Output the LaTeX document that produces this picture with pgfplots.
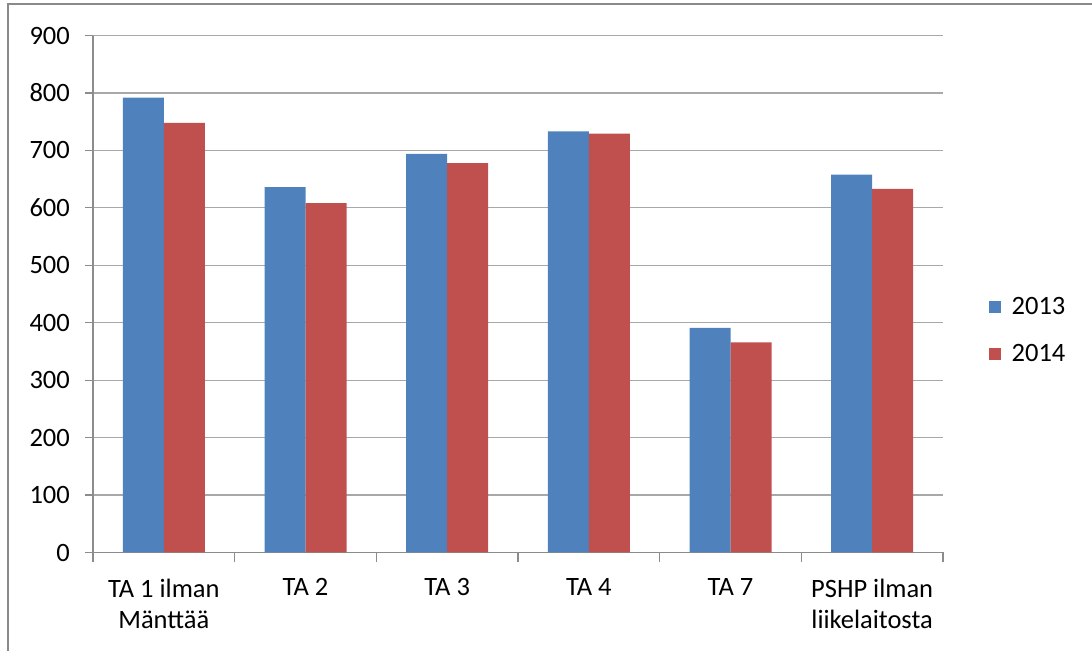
\documentclass[border=0pt]{standalone}
\usepackage{fontspec}
\setmainfont{Carlito}
\usepackage{pgfplots}
\pgfplotsset{compat=1.18}

\definecolor{sblue}{HTML}{4F81BD}
\definecolor{sred}{HTML}{C0504D}
\definecolor{gridgray}{HTML}{A8A8A8}
\definecolor{axisgray}{HTML}{8C8C8C}
\definecolor{framegray}{HTML}{8A8A8A}

\begin{document}
\begin{tikzpicture}
\path[use as bounding box] (0,0) rectangle (1092bp,651bp);
\draw[framegray, line width=2bp] (8bp,0) -- (8bp,647bp) -- (1092bp,647bp);
\begin{axis}[
  at={(93bp,98.5bp)}, anchor=south west,
  scale only axis, width=850bp, height=517bp,
  ybar=0pt, bar width=41bp,
  xmin=-0.5, xmax=5.5, ymin=0, ymax=900,
  ytick={0,100,...,900},
  xtick={0,...,5},
  xticklabels={{TA 1 ilman\\Mänttää},{TA 2},{TA 3},{TA 4},{TA 7},{PSHP ilman\\liikelaitosta}},
  minor xtick={-0.5,0.5,...,5.5},
  major x tick style={draw=none},
  minor x tick style={axisgray, line width=1.3bp},
  minor tick length=10bp,
  major tick length=8bp,
  tick align=outside,
  axis x line*=bottom, axis y line*=left,
  axis line style={axisgray, line width=1.3bp, -},
  y tick style={axisgray, line width=1.3bp},
  ymajorgrids, grid style={gridgray, line width=1.3bp},
  tick label style={font=\fontsize{26.5bp}{31bp}\selectfont, text=black},
  /pgf/number format/assume math mode=true,
  yticklabel style={inner sep=0pt, xshift=-15bp},
  xticklabel style={align=center, inner sep=0pt, yshift=-18bp},
  legend style={draw=none, fill=none, at={(1.05,0.43)}, anchor=west,
    font=\fontsize{26.5bp}{31bp}\selectfont, row sep=24bp, column sep=9bp,
    legend cell align=left},
  legend image code/.code={\fill[#1] (0bp,-6bp) rectangle (12bp,6bp);},
]
\addplot[fill=sblue, draw=none] coordinates {(0,792) (1,636) (2,694) (3,733) (4,391) (5,658)};
\addplot[fill=sred, draw=none] coordinates {(0,748) (1,608) (2,678) (3,729) (4,366) (5,633)};
\legend{2013,2014}
\end{axis}
\end{tikzpicture}
\end{document}
